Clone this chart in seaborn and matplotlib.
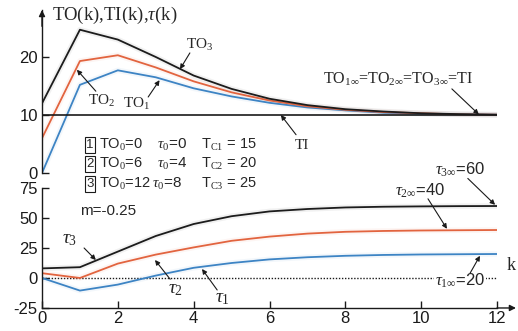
import matplotlib
matplotlib.use("Agg")
import matplotlib.pyplot as plt
import numpy as np
import pandas as pd
import seaborn as sns

# values
k = list(range(13))
to1 = [0, 15.2, 17.7, 16.5, 14.6, 13.2, 12.1, 11.3, 10.8, 10.4, 10.2, 10.1, 10.05]
to2 = [6, 19.3, 20.3, 18.2, 15.8, 13.9, 12.5, 11.5, 10.9, 10.5, 10.3, 10.1, 10.05]
to3 = [12, 24.7, 23.0, 20.0, 16.8, 14.5, 12.8, 11.7, 11.0, 10.6, 10.3, 10.15, 10.05]
ti_level = 10
tau1 = [0, -10.5, -5.5, 2, 8.5, 12.5, 15.5, 17.3, 18.5, 19.2, 19.6, 19.8, 20]
tau2 = [4, 0, 12, 19.5, 25.5, 31, 34.5, 37, 38.5, 39.2, 39.6, 39.8, 40]
tau3 = [8, 9, 22, 35, 45, 51.5, 55.5, 57.5, 58.8, 59.4, 59.7, 59.9, 60]
x_ticks = [0, 2, 4, 6, 8, 10, 12]
top_yticks = [0, 10, 20]
bot_yticks = [-25, 0, 25, 50, 75]

palette = {"1": "#3d84c4", "2": "#e2643f", "3": "#1c1c1c"}

top_df = pd.DataFrame({
    "k": k * 3,
    "value": to1 + to2 + to3,
    "series": ["1"] * 13 + ["2"] * 13 + ["3"] * 13,
})
bot_df = pd.DataFrame({
    "k": k * 3,
    "value": tau1 + tau2 + tau3,
    "series": ["1"] * 13 + ["2"] * 13 + ["3"] * 13,
})

sns.set_theme(style="white")
plt.rcParams["font.family"] = ["Liberation Sans", "DejaVu Sans"]
plt.rcParams["mathtext.fontset"] = "custom"
plt.rcParams["mathtext.rm"] = "Liberation Serif"
plt.rcParams["mathtext.it"] = "Liberation Serif:italic"
plt.rcParams["mathtext.bf"] = "Liberation Serif:bold"

W, H = 518, 331
fig = plt.figure(figsize=(W / 100, H / 100), dpi=100)


def px(x, y):
    return x / W, 1 - y / H


ax_top = fig.add_axes([42 / W, (H - 173) / H, 455 / W, 163 / H])
ax_bot = fig.add_axes([42 / W, (H - 308) / H, 455 / W, 120 / H])
ax_top.set_zorder(1)
ax_bot.set_zorder(2)

for ax, df in [(ax_top, top_df), (ax_bot, bot_df)]:
    # faint halo like the reference's soft lines
    sns.lineplot(data=df, x="k", y="value", hue="series", palette=palette,
                 linewidth=4, alpha=0.06, legend=False, ax=ax)
    sns.lineplot(data=df, x="k", y="value", hue="series", palette=palette,
                 linewidth=1.3, legend=False, ax=ax)
    ax.set_xlim(0, 12)
    ax.set_xlabel("")
    ax.set_ylabel("")
    ax.patch.set_alpha(0)
    for s in ["top", "right"]:
        ax.spines[s].set_visible(False)
    ax.spines["left"].set_color("k")
    ax.spines["left"].set_linewidth(1.0)
    ax.tick_params(axis="y", direction="in", length=5, width=1, colors="k",
                   labelsize=12, pad=3, left=True)

ax_top.axhline(ti_level, color="k", lw=1.2)
ax_top.set_ylim(0, 28.1)
ax_top.set_yticks(top_yticks)
ax_top.spines["bottom"].set_visible(False)
ax_top.set_xticks([])

ax_bot.set_ylim(-25.02, 75.02)
ax_bot.set_yticks(bot_yticks)
ax_bot.set_yticklabels([str(v) for v in bot_yticks])
ax_bot.spines["left"].set_bounds(-25, 75)
ax_bot.set_xticks(x_ticks)
ax_bot.spines["bottom"].set_color("k")
ax_bot.spines["bottom"].set_linewidth(1.0)
ax_bot.tick_params(axis="x", direction="in", length=5, width=1, colors="k",
                   labelsize=12, pad=2, bottom=True)
ax_bot.axhline(0, color="k", lw=1, ls=(0, (1, 1.2)), zorder=1)

arrow = dict(arrowstyle="-|>", color="k", lw=0.8, mutation_scale=7, shrinkA=0, shrinkB=0)
# axis arrows
ax_top.annotate("", xy=(0, 1.0), xycoords="axes fraction", xytext=(0, 0.9),
                arrowprops=dict(arrowstyle="-|>", color="k", lw=1, mutation_scale=9, shrinkA=0, shrinkB=0))
ax_bot.annotate("", xy=(12.5, -25), xytext=(12, -25), annotation_clip=False,
                arrowprops=dict(arrowstyle="-|>", color="k", lw=1, mutation_scale=9, shrinkA=0, shrinkB=0))
ax_bot.text(12.37, 10, "k", fontsize=13, family="Liberation Serif", ha="center", va="center", clip_on=False)

fig.text(*px(52, 15), "TO(k),TI(k),$\\tau$(k)", fontsize=13.5, family="Liberation Serif", va="center", ha="left")

serif = dict(family="Liberation Serif", fontsize=11, ha="center", va="center")
ax_top.text(4.17, 22.1, "TO$_3$", **serif)
ax_top.annotate("", xy=(3.64, 17.9), xytext=(3.9, 20.7), arrowprops=arrow)
ax_top.text(1.56, 12.4, "TO$_2$", **serif)
ax_top.annotate("", xy=(0.92, 17.8), xytext=(1.42, 14.1), arrowprops=arrow)
ax_top.text(2.5, 11.9, "TO$_1$", **serif)
ax_top.annotate("", xy=(3.1, 16.0), xytext=(2.8, 13.1), arrowprops=arrow)
ax_top.text(9.39, 16.2, "TO$_{1\\infty}$=TO$_{2\\infty}$=TO$_{3\\infty}$=TI", family="Liberation Serif",
            fontsize=11.5, ha="center", va="center")
ax_top.annotate("", xy=(11.52, 10.1), xytext=(10.81, 14.5), arrowprops=arrow)
ax_top.text(6.86, 4.8, "TI", **serif)
ax_top.annotate("", xy=(6.3, 10), xytext=(6.7, 6.6), arrowprops=arrow)

# parameter table
rows = [
    (145, "1", "TO$_0$=0", 157, "$\\tau_0$=0", "T$_{\\rm C1}$ = 15"),
    (164, "2", "TO$_0$=6", 157, "$\\tau_0$=4", "T$_{\\rm C2}$ = 20"),
    (184, "3", "TO$_0$=12", 152, "$\\tau_0$=8", "T$_{\\rm C3}$ = 25"),
]
for y, num, to_txt, tau_x, tau_txt, tc_txt in rows:
    fig.text(*px(90, y), num, fontsize=9.5, ha="center", va="center",
             bbox=dict(boxstyle="square,pad=0.12", fc="white", ec="k", lw=0.8))
    fig.text(*px(99, y), to_txt, fontsize=10.5, ha="left", va="center")
    fig.text(*px(tau_x, y), tau_txt, fontsize=11, ha="left", va="center")
    fig.text(*px(201, y), tc_txt, fontsize=10.5, ha="left", va="center")

ax_bot.text(1.0, 55.8, "m=-0.25", fontsize=11, ha="left", va="center")

tau_kw = dict(fontsize=14, ha="center", va="center")
ax_bot.text(0.74, 31.7, "$\\tau_3$", **tau_kw)
ax_bot.annotate("", xy=(1.42, 15), xytext=(1.11, 25), arrowprops=arrow)
ax_bot.text(3.53, -9.2, "$\\tau_2$", **tau_kw)
ax_bot.annotate("", xy=(2.98, 15), xytext=(3.38, -1), arrowprops=arrow)
ax_bot.text(4.77, -17.5, "$\\tau_1$", **tau_kw)
ax_bot.annotate("", xy=(4.22, 7.5), xytext=(4.62, -10), arrowprops=arrow)

ax_bot.text(11.02, 90, "$\\tau_{3\\infty}$=60", fontsize=12, ha="center", va="center", clip_on=False)
ax_bot.annotate("", xy=(11.95, 61), xytext=(11.23, 83), arrowprops=arrow, annotation_clip=False)
ax_bot.text(9.97, 72.5, "$\\tau_{2\\infty}$=40", fontsize=12, ha="center", va="center", clip_on=False)
ax_bot.annotate("", xy=(10.68, 41), xytext=(10.18, 66), arrowprops=arrow)
ax_bot.text(11.02, -2.5, "$\\tau_{1\\infty}$=20", fontsize=12, ha="center", va="center",
            bbox=dict(boxstyle="square,pad=0.05", fc="white", ec="none"))
ax_bot.annotate("", xy=(11.55, 18.5), xytext=(11.29, 4), arrowprops=arrow)

fig.savefig("out.png", dpi=100)
